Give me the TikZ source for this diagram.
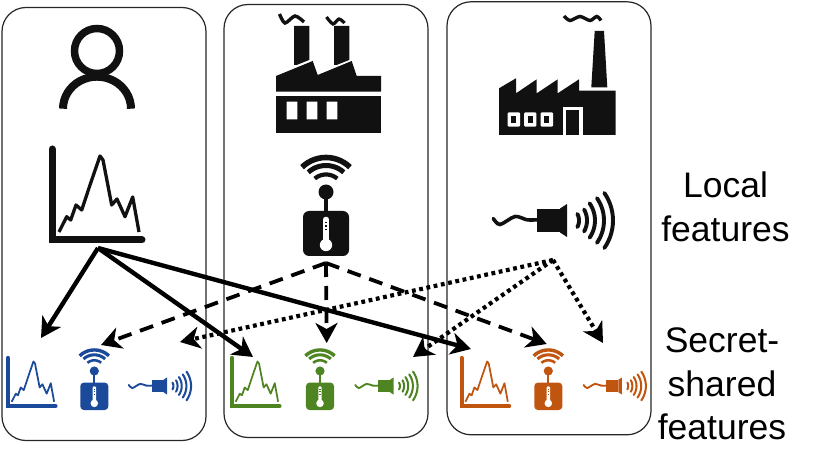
\documentclass[tikz,border=0pt]{standalone}
\usepackage{fontspec}
\setmainfont{Liberation Sans}
\usetikzlibrary{arrows.meta}
\definecolor{iconblack}{HTML}{111111}
\definecolor{iconblue}{HTML}{1C4A9A}
\definecolor{icongreen}{HTML}{4E8522}
\definecolor{iconorange}{HTML}{C05510}
\tikzset{
  panel/.style={draw=black!85,line width=1.2pt,rounded corners=24pt},
  flow/.style={-{Stealth[length=20pt,width=22pt,inset=6pt]},black},
  soliddrop/.style={flow,line width=4.4pt},
  dashdrop/.style={flow,line width=3.8pt,dash pattern=on 14pt off 9pt},
  dotdrop/.style={flow,line width=4.2pt,dash pattern=on 3.8pt off 3.6pt},
  caption/.style={font=\fontsize{35.5pt}{43.5pt}\selectfont,align=center,inner sep=0pt},
  pics/chart/.style 2 args={code={
    \begin{scope}[scale=#1]
      \draw[#2,line width=#1*7pt,line cap=round,line join=miter] (0,-91) -- (0,0) -- (90,0);
      \draw[#2,line width=#1*3.3pt,line join=round] (7,-8) -- (14.7,-23.3) -- (18.7,-20) -- (24,-35) -- (29.7,-30) -- (38,-55) -- (48,-84) -- (51,-80) -- (59.7,-35) -- (65,-41) -- (73,-23.3) -- (80.7,-43) -- (87,-8);
    \end{scope}}},
  pics/sensor/.style 2 args={code={
    \begin{scope}[scale=#1]
      \foreach \rr/\aa/\ww in {34.5/44/5.6,26.5/42/5,17.5/40/4.2}
        \draw[#2,line width=#1*\ww pt,samples=15,domain=-\aa:\aa,variable=\t] plot ({\rr*sin(\t)},{-\rr*cos(\t)});
      \fill[#2] (0,0) circle[radius=7.5];
      \fill[#2] (-1.7,0) rectangle (1.7,20);
      \fill[#2,rounded corners=#1*6pt] (-23,19) rectangle (23,64);
      \fill[white,rounded corners=#1*2pt] (-2.8,25) rectangle (2.8,50);
      \fill[white] (0,53) circle[radius=6.2];
      \foreach \yy in {30,33.5,37}
        \fill[#2] (-1.2,\yy) rectangle (1.2,\yy+1.5);
    \end{scope}}},
  pics/speaker/.style 2 args={code={
    \begin{scope}[scale=#1]
      \draw[#2,line width=#1*3.6pt,line cap=round,smooth] plot coordinates {(-66.7,-2) (-60,4) (-45,-4) (-33,-0.7) (-23,-0.7)};
      \fill[#2] (-23,-11.5) rectangle (0,11.5);
      \fill[#2] (0,-12) -- (7,-16.5) -- (7,16.5) -- (0,12) -- cycle;
      \foreach \rr/\aa in {14/28,22/30,30/35,39/35,48/35}
        \draw[#2,line width=#1*3.9pt,line cap=round,samples=15,domain=-\aa:\aa,variable=\t] plot ({5+\rr*cos(\t)},{\rr*sin(\t)});
    \end{scope}}}
}
\begin{document}
\begin{tikzpicture}[x=1pt,y=-1pt]
\useasboundingbox (0,0) rectangle (830,454);
% panels
\node[panel,minimum width=204pt,minimum height=433pt,inner sep=0pt] (userpanel) at (104,224) {};
\node[panel,minimum width=204pt,minimum height=433pt,inner sep=0pt] (midpanel) at (326,221) {};
\node[panel,minimum width=204pt,minimum height=433pt,inner sep=0pt] (rightpanel) at (549,218.3) {};
% person
\draw[iconblack,line width=7.5pt] (97,51) circle[radius=22.5];
\draw[iconblack,line width=8pt,samples=25,domain=-90:90,variable=\t] plot ({97+34*sin(\t)},{108.7-32*cos(\t)});
% factory two chimneys
\fill[iconblack] (294,26) rectangle (309.3,65) (334,26) rectangle (349.3,65);
\fill[white] (292,67) -- (312,59) -- (312,63) -- (292,71) -- cycle;
\fill[white] (332,67) -- (352,59) -- (352,63) -- (332,71) -- cycle;
\fill[iconblack] (276,91.7) -- (276,76) -- (312.7,61) -- (317.7,75) -- (351.7,61) -- (356.7,76) -- (381,76) -- (381,91.7) -- cycle;
\fill[iconblack] (276,96) rectangle (381,132.7);
\fill[white] (286.7,101.7) rectangle (297.3,119.3) (306.7,101.7) rectangle (317.3,119.3) (326.7,101.7) rectangle (337.3,119.3);
\draw[iconblack,line width=3.4pt,smooth] plot coordinates {(279.5,14) (285,23) (295,16) (304,22)};
\draw[iconblack,line width=3.2pt,smooth] plot coordinates {(326.5,17) (333,24) (339,19) (344.5,23)};
% factory with tall chimney
\fill[iconblack] (594.7,31) -- (604,31) -- (607.3,87.3) -- (591.3,87.3) -- cycle;
\fill[iconblack] (499,135) -- (499,88.3) -- (516,78.3) -- (516,93.3) -- (536.7,79.3) -- (536.7,93.3) -- (557.7,79.3) -- (557.7,93.3) -- (579,79.3) -- (579,90.7) -- (615.7,90.7) -- (615.7,135) -- cycle;
\foreach \xx in {507.7,524,540.7}
  {\fill[white,rounded corners=1.2pt] (\xx,112.3) rectangle (\xx+12.3,126.7);
   \fill[iconblack] (\xx+3.6,115.8) rectangle (\xx+8.7,123);}
\fill[white] (563.3,106.7) rectangle (582.7,135);
\fill[iconblack] (565.7,110) rectangle (579.3,135);
\draw[iconblack,line width=3.4pt,smooth] plot coordinates {(564,16) (570,20.5) (580,16.5) (590,20.5) (596.7,16.5) (601,20.5)};
% local features
\pic at (52,240) {chart={1}{iconblack}};
\pic at (326,192) {sensor={1}{iconblack}};
\pic at (560,220.5) {speaker={1}{iconblack}};
% secret-shared
\pic at (8,406) {chart={0.53}{iconblue}};
\pic at (94.3,371) {sensor={0.61}{iconblue}};
\pic at (163.5,386) {speaker={0.52}{iconblue}};
\pic at (232,406) {chart={0.53}{icongreen}};
\pic at (320,371) {sensor={0.61}{icongreen}};
\pic at (390,386) {speaker={0.52}{icongreen}};
\pic at (461.7,406) {chart={0.53}{iconorange}};
\pic at (548.3,371) {sensor={0.61}{iconorange}};
\pic at (618.3,386) {speaker={0.52}{iconorange}};
% connector ends
\coordinate (chartsrc) at (98,248);
\coordinate (sensorsrc) at (326,263);
\coordinate (speakersrc) at (553,260);
\coordinate (bchart) at (41,338);
\coordinate (gchart) at (253,357);
\coordinate (ochart) at (471,349);
\coordinate (bsensor) at (101,345);
\coordinate (gsensor) at (326.7,343);
\coordinate (osensor) at (546.7,344);
\coordinate (bspeaker) at (180,342);
\coordinate (gspeaker) at (413,357);
\coordinate (ospeaker) at (603,343);
\draw[soliddrop] (chartsrc) -- (bchart);
\draw[soliddrop] (chartsrc) -- (gchart);
\draw[soliddrop] (chartsrc) -- (ochart);
\draw[dashdrop] (sensorsrc) -- (bsensor);
\draw[dashdrop] (sensorsrc) -- (gsensor);
\draw[dashdrop] (sensorsrc) -- (osensor);
\draw[dotdrop] (speakersrc) -- (bspeaker);
\draw[dotdrop] (speakersrc) -- (gspeaker);
\draw[dotdrop] (speakersrc) -- (ospeaker);
% captions
\node[caption] (localcap) at (725.5,207) {Local\\features};
\node[caption] (sharedcap) at (722,384) {Secret-\\shared\\features};
\end{tikzpicture}
\end{document}
